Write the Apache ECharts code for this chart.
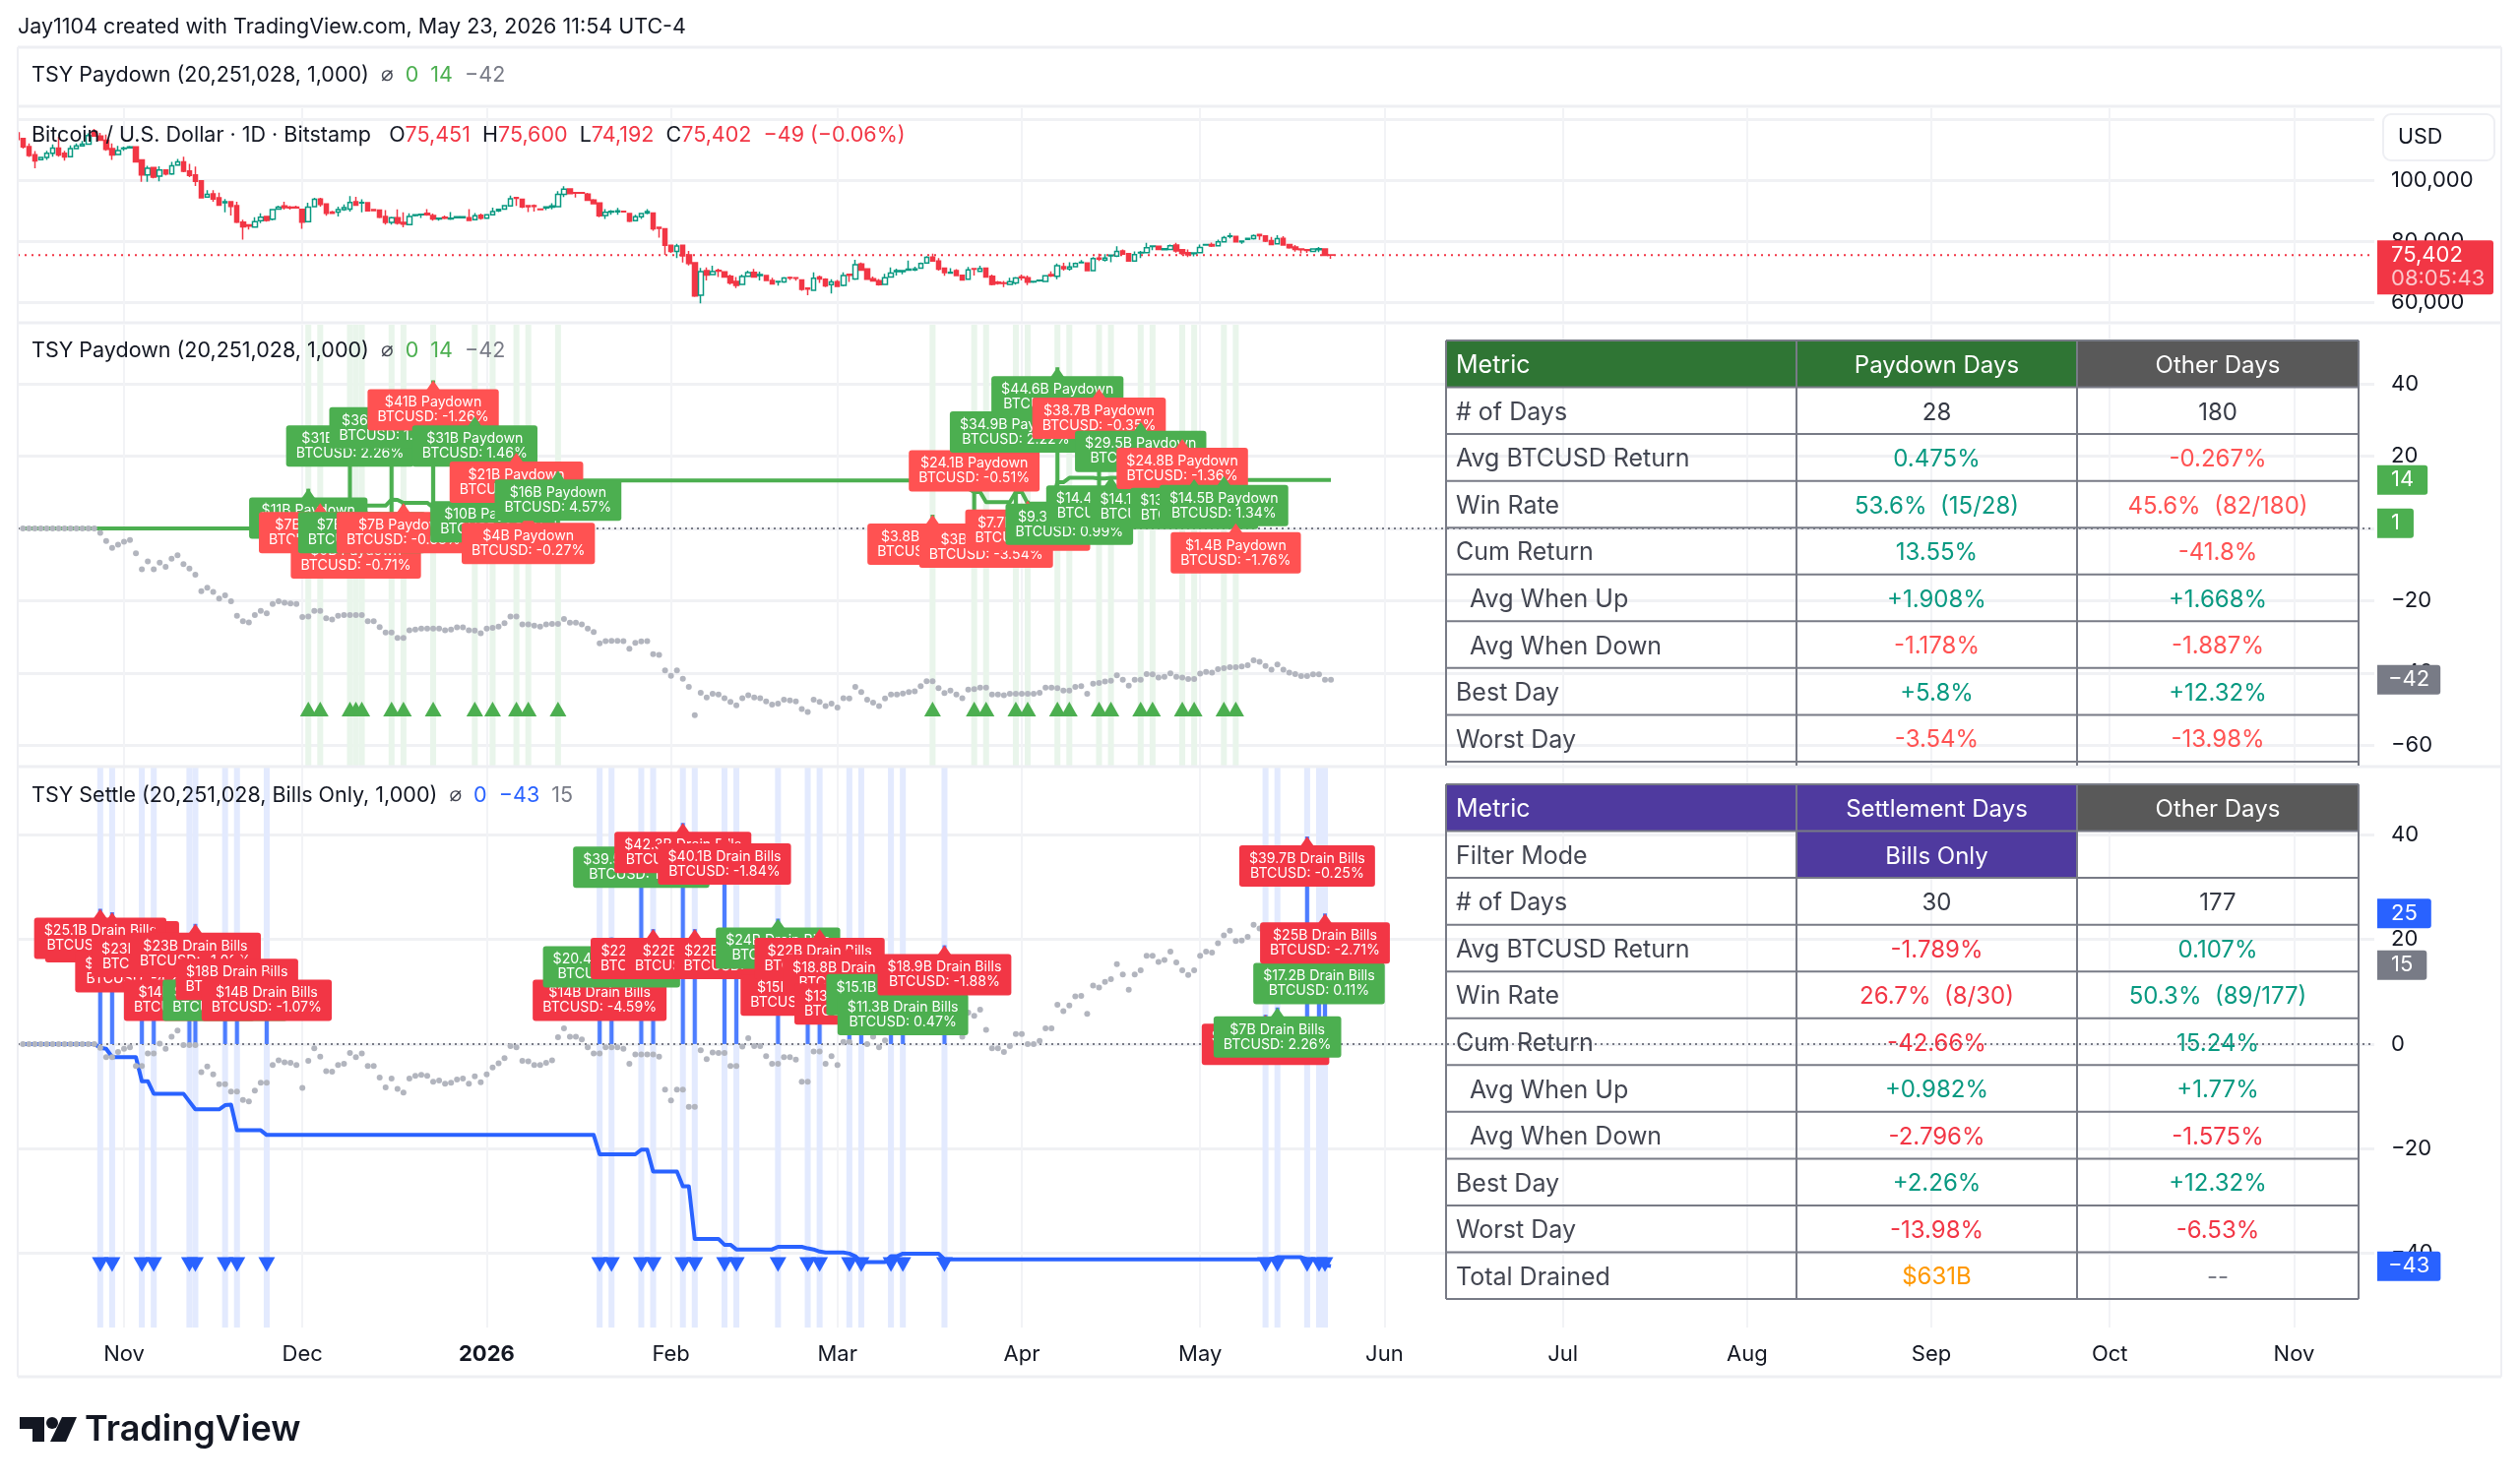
<!DOCTYPE html>
<html><head><meta charset="utf-8">
<style>html,body{margin:0;padding:0;background:#fff}#c{width:2560px;height:1507px}</style>
<script src="https://cdn.jsdelivr.net/npm/echarts@6/dist/echarts.min.js"></script>
</head><body><div id="c"></div>
<script>
// ---------- DATA (x = days since 1 Nov 2025) ----------
const monthDays   = [0,30,61,92,120,151,181,212,242,273,304,334,365];
const monthLabels = ['Nov','Dec','2026','Feb','Mar','Apr','May','Jun','Jul','Aug','Sep','Oct','Nov'];
const btcStartDay = -18;
// open, close, low, high in thousands of USD
const btcOHLC = [
[115.5,113.3,113.3,115.7],[113.6,110.9,110.3,113.9],[111.0,108.1,107.6,112.0],[108.3,106.3,103.9,109.5],[106.7,107.4,106.6,107.5],
[107.4,108.8,106.6,109.6],[108.8,110.5,107.7,111.7],[110.5,108.2,107.7,114.2],[108.8,107.6,106.4,109.6],[107.7,110.3,107.6,111.4],
[110.3,111.2,110.1,112.0],[111.2,111.8,111.2,112.8],[111.8,114.6,111.6,115.3],[116.0,114.4,114.4,116.8],[114.4,113.1,112.8,115.5],
[113.1,110.1,109.6,114.9],[110.3,108.2,106.6,112.0],[108.4,109.7,108.2,111.2],[110.3,110.5,109.6,111.0],[110.6,110.9,110.3,111.2],
[110.9,106.0,105.8,111.0],[106.6,101.7,99.4,106.7],[101.7,103.9,99.4,104.7],[104.1,101.0,100.6,104.3],[101.3,103.3,99.6,104.5],
[103.3,102.0,101.5,103.4],[102.0,104.7,101.7,106.0],[104.9,106.0,104.7,106.9],[106.0,102.9,102.6,107.7],[103.0,101.5,101.0,105.3],
[101.7,99.6,98.1,104.4],[99.8,94.2,94.0,99.9],[94.4,95.3,94.2,96.7],[95.5,93.8,92.9,96.7],[94.2,91.8,91.6,95.9],
[92.6,92.9,89.4,93.8],[92.9,91.4,88.4,93.1],[91.6,86.2,85.9,92.9],[86.2,84.7,80.5,87.0],[85.3,84.9,83.8,85.4],
[84.6,86.4,84.5,87.8],[86.7,87.8,85.9,89.1],[88.1,86.8,86.4,88.3],[87.2,90.3,86.8,90.5],[90.5,91.1,90.3,91.6],
[91.5,91.0,90.3,92.9],[91.1,90.9,90.3,91.5],[91.1,90.9,90.8,91.6],[90.4,86.2,84.0,90.5],[86.4,91.1,86.2,92.6],
[91.3,93.7,91.1,94.2],[93.8,92.0,91.3,94.2],[92.2,89.1,88.3,92.4],[89.5,89.1,89.0,89.9],[89.5,90.3,88.1,91.3],
[90.3,91.0,89.9,92.0],
[90.5,92.7,89.7,94.8],[92.9,91.8,91.6,94.5],[92.5,92.7,89.4,93.7],[92.6,89.9,89.7,92.7],[90.3,90.0,89.9,90.5],
[90.2,87.8,87.5,90.4],[88.1,86.1,85.4,90.2],[86.1,87.7,85.4,88.0],[87.7,85.9,85.4,90.4],[86.1,85.6,84.5,89.4],
[85.4,88.1,85.2,89.1],[88.4,88.6,88.1,88.7],[88.6,88.8,87.6,89.0],[89.1,88.6,88.3,90.5],[88.4,87.3,86.7,89.0],
[87.3,87.5,86.7,87.6],[87.8,87.5,87.2,88.4],[87.3,87.5,86.9,89.5],[87.7,88.0,87.5,88.1],[87.7,88.0,87.5,88.1],
[87.7,86.8,86.7,90.5],[87.0,88.3,86.8,89.2],[88.5,87.5,87.0,89.0],[87.5,88.6,87.4,88.8],[88.6,89.7,88.5,91.0],
[89.9,90.4,89.5,90.5],[90.5,91.6,90.4,91.8],[91.5,93.9,91.4,94.9],[94.3,94.0,91.5,94.5],[93.7,91.2,90.8,93.8],
[91.6,91.3,89.5,91.8],[91.6,91.4,89.7,92.0],[90.5,90.3,90.2,90.6],[90.9,91.2,90.2,91.3],[91.1,91.5,90.4,92.4],
[91.3,95.3,91.2,96.4],[95.3,97.0,94.4,98.0],[97.1,95.6,95.4,97.2],[95.9,95.7,94.3,96.1],[95.9,95.7,95.6,96.0],
[95.4,93.4,93.3,95.8],[93.5,92.3,92.0,93.8],[92.5,88.3,87.8,92.7],[88.4,89.4,87.3,90.5],[89.5,89.8,88.6,90.2],
[89.6,89.9,88.6,90.9],[89.8,89.6,89.5,89.9],[89.0,86.5,86.2,89.2],[86.7,88.0,86.5,88.6],[88.0,89.0,87.3,89.2],
[89.2,89.7,88.8,90.5],[89.2,84.0,83.4,89.4],[84.5,84.2,81.1,84.7],[84.0,78.6,75.5,84.1],[78.6,76.6,76.1,78.9],
[76.6,78.4,74.4,79.1],
[78.6,75.2,73.0,78.8],[75.5,72.7,72.0,76.8],[72.9,62.0,61.7,73.1],[62.3,70.0,59.6,71.2],[70.3,68.9,67.1,71.4],
[69.0,70.0,68.9,71.9],[70.4,70.2,68.2,71.0],[69.9,68.2,68.0,70.1],[68.5,66.3,65.7,69.0],[66.8,65.5,64.6,68.2],
[65.8,68.4,65.7,69.0],[68.5,69.7,68.4,70.3],[69.8,68.2,68.0,70.9],[68.7,69.0,67.1,70.0],[68.7,67.1,66.9,68.9],
[67.1,66.0,65.7,68.0],[66.6,66.8,65.4,66.9],[66.6,67.9,66.3,68.2],[68.1,67.9,67.3,68.4],[68.0,67.8,67.0,68.2],
[67.3,64.2,63.7,67.5],[64.6,64.3,62.3,64.7],[63.9,67.8,63.7,69.8],[68.2,67.6,66.3,68.7],[67.5,65.3,64.9,67.8],
[65.7,66.6,62.8,67.5],[66.7,65.2,64.9,67.3],[65.5,68.7,65.2,69.8],[69.1,68.8,66.6,69.2],[67.6,72.3,67.3,73.9],
[72.5,70.5,70.3,73.0],[70.9,67.5,67.3,71.1],[67.7,66.9,66.8,68.4],[67.0,65.7,65.4,67.6],[65.8,68.0,65.7,69.3],
[68.2,69.5,68.0,71.4],[70.0,70.3,68.7,71.0],[70.0,70.3,69.1,70.5],[70.5,70.8,70.3,73.6],[70.6,70.9,70.2,71.6],
[71.1,72.7,71.0,73.0],[72.8,74.7,72.7,75.1],[74.8,73.5,73.4,75.9],[73.5,70.8,70.3,74.4],[71.1,69.7,68.6,71.3],
[69.5,69.8,69.4,71.1],[70.3,68.7,68.6,70.8],[68.8,67.3,67.1,69.0],[67.5,70.6,67.3,71.5],[71.0,70.8,68.7,71.1],
[70.1,71.0,70.0,71.9],[71.1,68.2,68.0,71.3],[68.5,65.8,65.5,69.0],[66.5,66.1,65.7,66.9],[66.3,66.1,64.9,66.9],
[65.8,66.7,65.7,68.0],[66.3,67.9,65.7,68.2],[68.3,68.0,67.1,69.0],[68.0,66.5,65.6,68.7],[66.6,66.8,66.3,67.0],
[67.0,67.2,66.7,67.4],[66.8,68.6,66.7,68.8],[69.0,68.6,68.2,70.1],[68.5,71.9,67.5,72.7],[71.6,71.0,70.3,72.9],
[70.9,71.5,70.3,73.1],[71.6,72.7,71.4,73.0],[72.9,73.1,72.7,73.8],[72.8,70.3,70.1,73.0],[70.3,74.3,70.2,74.8],
[74.4,74.1,73.5,75.9],[73.8,74.4,73.3,75.7],[75.2,75.4,73.1,75.6],[75.1,76.6,74.8,78.3],[76.8,75.7,75.6,77.3],
[75.9,73.5,73.3,76.1],[73.5,75.6,73.3,76.6],[76.1,76.3,74.4,76.8],[76.2,77.8,76.0,79.4],[78.2,78.4,77.0,78.6],
[78.3,77.3,77.2,78.5],[77.2,77.5,77.1,77.6],[77.3,78.5,77.1,78.9],[78.7,76.8,76.2,79.4],[77.2,76.0,75.4,77.4],
[76.2,75.5,74.8,77.3],[75.9,76.1,75.0,76.3],[76.2,77.9,76.0,78.9],[78.7,78.9,78.5,79.1],[78.9,78.4,78.1,79.5],
[78.5,79.8,78.2,80.5],[79.8,81.1,79.5,81.7],[81.5,81.7,80.9,82.7],[81.5,79.8,79.5,81.7],[79.8,80.0,79.1,80.2],
[80.6,80.9,80.4,81.0],[80.8,81.8,80.5,82.2],[82.2,81.8,80.4,82.3],[81.7,80.0,79.7,81.9],[80.2,78.9,78.7,81.4],
[79.1,80.8,78.9,81.9],[80.9,78.7,78.6,81.6],[78.9,77.8,77.5,79.1],[78.1,77.3,76.5,78.7],[77.4,77.2,76.0,77.6],
[77.2,76.9,76.1,77.3],[76.6,77.4,76.4,77.5],[77.2,77.5,76.4,78.1],[77.4,75.3,75.1,77.6],[75.451,75.402,74.192,75.6]];
const btcLast = 75.402;

const linesStartDay = -17;
// gray "other days" cumulative return, paydown pane, day -17 to 203
const otherPaydown = [0,0,0,0,0,0,0,0,0,0,0,0,0,
-1.2,-3.5,-5.4,-4.5,-3.7,-3.2,-6.9,-11.3,-9.1,-11.3,
-9.5,-10.6,-8.4,-7.4,-9.9,-11.1,-12.8,-17.4,-16.4,-17.6,
-19.4,-18.5,-20.2,-24.2,-25.7,-26,-24,-22.8,-23.5,-20.9,
-20.2,-20.6,-20.8,-20.9,-24.5,-24.4,-22.8,-22.8,-24.9,-25.2,
-24.2,-24,-24,-24,-24,-25.7,-25.7,-27.3,-28.8,-28.8,
-30.3,-30.3,-28.2,-28,-27.7,-27.7,-27.7,-27.7,-28.2,-28,
-27.4,-27.4,-28.2,-28.3,-29,-27.7,-27.5,-27.2,-26.2,-24.4,
-24.4,-26.6,-26.6,-26.9,-27.2,-26.6,-26.4,-26.4,-25.1,-26.1,
-26.1,-26.6,-27.7,-28.7,-31.8,-31.2,-31.1,-31.1,-31.2,-33.3,
-31.7,-31.3,-31.2,-34.8,-35,-39.3,-40.8,-39.3,-41.6,-43.9,
-51.7,-45.5,-46.8,-45.8,-46,-47,-48,-49,
-47,-46.2,-46.8,-47,-47.9,-48.8,-48.5,-47.4,-47.6,-47.9,
-50,-50.8,-47.4,-48,-49.2,-48.5,-49.6,-47,-47.1,-43.9,
-45.3,-47.4,-48.2,-49.2,-47.1,-46,-46,-45.7,-45.3,-45.1,
-43.7,-42.3,-42.3,-44.2,-45.6,-44.9,-46,-47,-44.6,-44.5,
-44.1,-44.1,-46,-46,-46.2,-45.8,-45.8,-45.8,-45.8,-45.8,
-45.5,-44.1,-44.1,-44.2,-44.9,-44.9,-43.9,-43.7,-45.8,-43,
-42.8,-42.4,-42.2,-40.7,-41.9,-43.5,-41.9,-41.9,-40.3,-40.4,
-41.3,-41.1,-40.1,-41.1,-41.3,-41.7,-41.7,-40.2,-39.7,-39.9,
-39,-38.7,-38.4,-38.4,-38.2,-37.9,-36.5,-36.9,-38.1,-39.1,
-37.7,-39.1,-39.9,-40.3,-40.9,-40.9,-40.4,-40.4,-41.9,-41.9];
// gray "other days" cumulative return, settlement pane
const otherSettle = [0,0,0,0,0,0,0,0,0,0,0,0,0,
-0.7,-2.5,-2.5,-1.5,-0.9,-0.6,-4.2,-4.2,-1.8,-1.8,
0.1,-0.9,1.4,2.6,-0.2,-0.2,-0.2,-5.4,-4.3,-5.8,
-7.7,-7.7,-9.1,-9.1,-10.7,-11,-8.9,-7.4,-7.4,-4,
-3.1,-3.5,-3.6,-4,-8.4,-3.2,-0.8,-2.4,-5.2,-5.3,
-4,-3.8,-1.7,-2.5,-1.8,-4.2,-4.2,-6.4,-8.3,-6.6,
-8.6,-9.3,-6.6,-6.1,-5.9,-6.1,-7.2,-7,-7.6,-7.4,
-6.8,-6.6,-7.6,-6.2,-7.3,-5.8,-4.5,-3.7,-2.7,-0.4,
-0.6,-3.2,-3.3,-4,-4,-3.6,-3.1,1.3,3,1.4,
1.4,0.9,-0.6,-1.8,-1.8,-0.6,-0.6,-0.6,-0.9,-3.8,
-2,-2,-2,-2,-2.4,-8.7,-10.8,-8.7,-8.7,-12,
-12,-1.2,-2.9,-1.6,-1.7,-1.7,-4.2,-4.2,
-0.5,1.1,-0.4,-0.4,-2.3,-3.8,-3.8,-2.5,-2.5,-3,
-7.2,-7.2,-1.4,-1.4,-3.8,-2.3,-4,0.4,0.4,3.2,
2.2,0,1.4,-0.6,0.7,2.5,2.5,2.9,3.2,3.6,
5,6.8,6.8,5,3.2,4,2.9,1.4,6,5.4,
6.6,2.7,-0.8,-0.8,-1.5,-0.4,1.9,1.9,0,0,
0.6,3,3,7.5,6.3,7.4,9.1,9.2,5.8,11.2,
10.8,11.9,12.4,15.3,13.3,10.4,13.3,14.1,16.9,16.9,
15.7,16.1,17.7,15.6,14.1,13.2,14.1,16.9,17.7,17.5,
19.3,20.8,21.7,19.7,19.8,20.5,22.8,22.1,21.3,19.8,
21,19.1,18,17.3,16.6,16.6,17.1,17.1,15.1,15.1];
// cumulative lines as [level, number of days held]
const paydownCumSteps = [[0,48],[5.8,2],[3.9,5],[6.2,1],[5.5,1],[6.3,5],[8.0,1],[7.9,1],[7.1,5],[5.8,7],[7.3,3],[9.5,4],[9.0,2],[8.8,5],[13.3,63],[11,7],[10.1,2],[7.3,5],[10.1,2],[6.9,5],[12.8,2],[14,5],[13.8,2],[14,5],[14.8,2],[15.4,5],[14,2],[14.2,5],[15.2,2],[13.4,17]];
const settleCumSteps = [[0,13],[-0.7,1],[-0.9,1],[-2.5,5],[-7.1,2],[-9.5,6],[-11,1],[-12.5,5],[-11.7,1],[-11.6,1],[-16.5,5],[-17.4,56],[-21.1,7],[-20.2,2],[-24.4,5],[-27.2,2],[-37.3,5],[-38.4,2],[-39.3,7],[-38.8,5],[-39.1,1],[-39.3,1],[-39.7,1],[-39.9,4],[-40.1,1],[-40.6,1],[-41.7,5],[-40.6,2],[-40.1,7],[-41.2,56],[-40.8,5],[-41.2,2],[-41.8,1],[-42.3,1],[-42.5,1]];

// events: day, amount $B, amount text, BTC return text
const paydownDays    = [31,33,38,39,40,45,47,52,59,62,66,68,73,136,143,145,150,152,157,159,164,166,171,173,178,180,185,187];
const paydownAmounts = [11,7,31,0,7,36,7,41,31,10,21,4,16,3.8,24.1,3,34.9,7.7,44.6,9.3,38.7,14.4,29.5,14.1,24.8,13.7,14.5,1.4];
const paydownText    = ['$11B','$7B','$31B','$0B','$7B','$36B','$7B','$41B','$31B','$10B','$21B','$4B','$16B','$3.8B','$24.1B','$3B','$34.9B','$7.7B','$44.6B','$9.3B','$38.7B','$14.4B','$29.5B','$14.1B','$24.8B','$13.7B','$14.5B','$1.4B'];
const paydownReturns = ['5.8','-1.9','2.26','-0.71','0.22','1.86','-0.68','-1.26','1.46','1.25','-0.32','-0.27','4.57','-2.31','-0.51','-3.54','2.22','-2.2','4.99','0.99','-0.35','0.22','1.12','0.31','-1.36','0.27','1.34','-1.76'];
const settleDays     = [-2,-4,3,5,11,12,17,19,24,80,82,87,89,94,96,101,103,110,115,117,122,124,129,131,138,192,194,199,201,202];
const settleAmounts  = [25.2,25.9,19.5,22.4,14,23,14,18,14,14,20.4,39.5,22,42.3,22,40.1,22,24,15,22,18.8,13.3,15.1,11.3,18.9,5.6,7,39.7,17.2,25];
const settleText     = ['$25B','$25.1B','$19.5B','$23B','$14B','$23B','$14B','$18B','$14B','$14B','$20.4B','$39.5B','$22B','$42.3B','$22B','$40.1B','$22B','$24B','$15B','$22B','$18.8B','$13.3B','$15.1B','$11.3B','$18.9B','$5.6B','$7B','$39.7B','$17.2B','$25B'];
const settleReturns  = ['-2.04','-1.17','-4.21','-1.9','-1.36','-1.02','0.41','-1.6','-1.07','-4.59','0.88','1.32','-5.9','-0.95','-13.98','-1.84','-2.2','1.1','-0.42','-1.75','-2.1','-0.62','0.96','0.47','-1.88','-1.1','2.26','-0.25','0.11','-2.71'];
const paydownMarkerLevel = -50;
const settleMarkerLevel  = -42.2;

const table1Header = ['Metric','Paydown Days','Other Days'];
const table1Rows = [
 ['# of Days','28','180'],['Avg BTCUSD Return','0.475%','-0.267%'],['Win Rate','53.6%  (15/28)','45.6%  (82/180)'],
 ['Cum Return','13.55%','-41.8%'],['  Avg When Up','+1.908%','+1.668%'],['  Avg When Down','-1.178%','-1.887%'],
 ['Best Day','+5.8%','+12.32%'],['Worst Day','-3.54%','-13.98%']];
const table2Header = ['Metric','Settlement Days','Other Days'];
const table2Rows = [
 ['Filter Mode','Bills Only',''],['# of Days','30','177'],['Avg BTCUSD Return','-1.789%','0.107%'],
 ['Win Rate','26.7%  (8/30)','50.3%  (89/177)'],['Cum Return','-42.66%','15.24%'],['  Avg When Up','+0.982%','+1.77%'],
 ['  Avg When Down','-2.796%','-1.575%'],['Best Day','+2.26%','+12.32%'],['Worst Day','-13.98%','-6.53%'],['Total Drained','$631B','--']];

// ---------- LAYOUT / HELPERS ----------
const FONT = 'Inter, "Noto Sans", "DejaVu Sans", sans-serif';
const INK='#131722', GREEN='#4CAF50', RED='#FF5252', RED2='#F23645', BLUE='#2962FF', GRAY='#787B86', TEAL='#089981';
const X0=18, X1=2412, XMIN=-17.88, XMAX=378.5;
const measure = document.createElement('canvas').getContext('2d');
function textW(t,f){measure.font=f;return measure.measureText(t).width;}
const expand = steps => steps.flatMap(s => Array(s[1]).fill(s[0]));
const withDays = (vals,start) => vals.map((v,i)=>[start+i,v]);

function bandSeries(ix,days,color){
  return {type:'custom',xAxisIndex:ix,yAxisIndex:ix,silent:true,z:1,clip:true,
    data:days.map(d=>[d]),encode:{x:0},
    renderItem(p,api){
      const d=api.value(0),a=api.coord([d-0.5,0]),b=api.coord([d+0.5,0]);
      return {type:'rect',shape:{x:a[0],y:p.coordSys.y,width:b[0]-a[0],height:p.coordSys.height},style:{fill:color}};
    }};
}
function labelSeries(ix,days,amts,texts,rets,word,redColor){
  const lf='14.2px '+FONT;
  return {type:'custom',xAxisIndex:ix,yAxisIndex:ix,silent:true,z:8,clip:false,
    data:days.map((d,i)=>[d,amts[i],i]),encode:{x:0,y:1},
    renderItem(p,api){
      const i=api.value(2),c=api.coord([api.value(0),api.value(1)]);
      const r=rets[i],fill=r[0]==='-'?redColor:GREEN;
      const l1=texts[i]+' '+word,l2='BTCUSD: '+r+'%';
      const w=Math.max(textW(l1,lf),textW(l2,lf))+20,h=42,tip=9,x=c[0],y=c[1]+tip;
      return {type:'group',children:[
        {type:'polygon',shape:{points:[[x,c[1]],[x+7,y+1],[x-7,y+1]]},style:{fill}},
        {type:'rect',shape:{x:x-w/2,y,width:w,height:h,r:3},style:{fill}},
        {type:'text',style:{x,y:y+13.5,text:l1,fill:'#fff',font:lf,align:'center',verticalAlign:'middle'}},
        {type:'text',style:{x,y:y+28.5,text:l2,fill:'#fff',font:lf,align:'center',verticalAlign:'middle'}}
      ]};
    }};
}
function tagSeries(ix,tags){ // tags: [value,text,color,text2]
  const f='22px '+FONT;
  return {type:'custom',xAxisIndex:ix,yAxisIndex:ix,silent:true,z:9,clip:false,
    data:tags.map((t,i)=>[XMAX,t[0],i]),encode:{x:0,y:1},
    renderItem(p,api){
      const t=tags[api.value(2)],c=api.coord([api.value(0),api.value(1)]);
      const x=c[0]+3,two=!!t[3],neg=t[1][0]==='\u2212';
      const w=two?118:textW(t[1],f)+(neg?22:28),h=two?55:30,y=c[1]-15;
      const kids=[{type:'rect',shape:{x,y,width:w,height:h,r:[0,3,3,0]},style:{fill:t[2]}},
        {type:'text',style:{x:x+(neg?11:14),y:y+15,text:t[1],fill:'#fff',font:f,align:'left',verticalAlign:'middle'}}];
      if(two)kids.push({type:'text',style:{x:x+14,y:y+39,text:t[3],fill:'rgba(255,255,255,.72)',font:f,align:'left',verticalAlign:'middle'}});
      return {type:'group',children:kids};
    }};
}
function markers(ix,days,level,color,rot){
  return {type:'scatter',xAxisIndex:ix,yAxisIndex:ix,silent:true,z:7,symbol:'triangle',symbolRotate:rot,
    symbolSize:[17,15],itemStyle:{color,opacity:1},data:days.map(d=>[d,level])};
}
function dots(ix,vals){
  return {type:'scatter',xAxisIndex:ix,yAxisIndex:ix,silent:true,z:6,symbol:'circle',symbolSize:6,
    itemStyle:{color:'#B2B5BE',opacity:1},data:withDays(vals,linesStartDay)};
}
function cumLine(ix,steps,color){
  return {type:'line',xAxisIndex:ix,yAxisIndex:ix,silent:true,z:5,showSymbol:false,smooth:false,
    lineStyle:{color,width:4,join:'round'},data:withDays(expand(steps),linesStartDay)};
}
function hist(ix,days,amts,color){
  return {type:'bar',xAxisIndex:ix,yAxisIndex:ix,silent:true,z:4,barWidth:4,itemStyle:{color},
    data:days.map((d,i)=>[d,amts[i]])};
}
function flat(ix,v,color,dash,w){
  return {type:'line',xAxisIndex:ix,yAxisIndex:ix,silent:true,z:3,showSymbol:false,
    lineStyle:{color,width:w,type:dash},data:[[XMIN,v],[XMAX,v]]};
}
function xAxis(ix,show){
  return {gridIndex:ix,type:'value',min:XMIN,max:XMAX,
    axisLine:{show:false},
    axisTick:{show:false,customValues:monthDays},
    splitLine:{show:true,lineStyle:{color:'#F2F3F6',width:2}},
    axisLabel:{show,customValues:monthDays,margin:16,hideOverlap:false,
      fontFamily:FONT,fontSize:22,color:INK,showMinLabel:true,showMaxLabel:true,
      formatter:v=>{const t=monthLabels[monthDays.indexOf(v)];return /^\d/.test(t)?'{y|'+t+'}':t;},
      rich:{y:{fontFamily:FONT,fontSize:22,fontWeight:700,color:INK}}
    }};
}
function yAxis(ix,min,max,ticks,labels,fmt){
  return {gridIndex:ix,type:'value',position:'right',min,max,
    axisLine:{show:false},axisTick:{show:false,customValues:ticks},
    splitLine:{show:true,lineStyle:{color:'#F0F1F4',width:3}},
    axisLabel:{customValues:labels,margin:17,fontFamily:FONT,fontSize:22,color:INK,formatter:fmt,showMinLabel:true,showMaxLabel:true}};
}
const minusFmt = v => String(v).replace('-','\u2212');

// graphic helpers
const TF='21.5px '+FONT;
const G=[];
const line=(x1,y1,x2,y2,c,w,z)=>G.push({type:'line',z:z||50,silent:true,shape:{x1,y1,x2,y2},style:{stroke:c,lineWidth:w}});
const rect=(x,y,width,height,fill,z)=>G.push({type:'rect',z:z||55,silent:true,shape:{x,y,width,height},style:{fill}});
const text=(x,y,t,opt)=>G.push({type:'text',z:60,silent:true,x,y,style:Object.assign({text:t,font:TF,fill:INK,align:'left',verticalAlign:'middle'},opt||{})});

// frame
const FC='#EEEFF3';
rect(0,110,X0,218,'#fff',45);
[48,108,328,779,1399].forEach(y=>line(X0,y,2541,y,FC,3));
line(X0,48,X0,1399,FC,2); line(2541,48,2541,1399,FC,2);

// header + legends
text(18,28,'Jay1104 created with TradingView.com, May 23, 2026 11:54 UTC-4');
const legRich={a:{font:TF,fill:INK},b:{font:'21px "DejaVu Sans"',fill:'#434651'},g:{font:TF,fill:GREEN},s:{font:TF,fill:GRAY},u:{font:TF,fill:BLUE},r:{font:TF,fill:RED2}};
const rich=(x,y,t)=>G.push({type:'text',z:60,silent:true,x,y,style:{text:t,rich:legRich,font:TF,fill:INK,align:'left',verticalAlign:'middle'}});
rich(32,77,'{a|TSY Paydown (20,251,028, 1,000)}  {b|\u2300}  {g|0}  {g|14}  {s|\u221242}');
rich(32,138,'{a|Bitcoin / U.S. Dollar \u00b7 1D \u00b7 Bitstamp}   {a|O}{r|75,451}  {a|H}{r|75,600}  {a|L}{r|74,192}  {a|C}{r|75,402}  {r|\u221249 (\u22120.06%)}');
rich(32,357,'{a|TSY Paydown (20,251,028, 1,000)}  {b|\u2300}  {g|0}  {g|14}  {s|\u221242}');
rich(32,809,'{a|TSY Settle (20,251,028, Bills Only, 1,000)}  {b|\u2300}  {u|0}  {u|\u221243}  {s|15}');

// USD box
G.push({type:'rect',z:55,silent:true,shape:{x:2421,y:116,width:113,height:47,r:8},style:{fill:'#fff',stroke:'#EEEFF3',lineWidth:2}});
text(2436,140,'USD');

// logo
G.push({type:'polygon',z:60,silent:true,shape:{points:[[20,1440],[45,1440],[45,1465],[33,1465],[33,1452],[20,1452]]},style:{fill:INK}});
G.push({type:'circle',z:60,silent:true,shape:{cx:53,cy:1446,r:6},style:{fill:INK}});
G.push({type:'polygon',z:60,silent:true,shape:{points:[[63,1440],[78,1440],[67,1465],[51,1465]]},style:{fill:INK}});
text(86,1453,'TradingView',{font:'600 36px '+FONT});

// tables
const colX=[1469,1825,2110,2396], BORDER='#787B86', RH=47.55;
function cellColor(t,red,col){
  if(col===0||t==='')return '#434651';
  if(t==='--')return GRAY;
  if(t[0]==='$')return '#FF9800';
  if(/^[-]/.test(t))return red;
  if(/[%]/.test(t)){ if(t[0]==='+'||!/^\d+\.\d+%\s+\(/.test(t)) return TEAL; }
  return '#363A45';
}
function drawTable(top,head,rows,headFill,red,winColors,firstCellFill,clipBottom){
  const n=rows.length+1,yAt=i=>top+i*RH;
  rect(colX[0],top,colX[1]-colX[0],RH,headFill); rect(colX[1],top,colX[2]-colX[1],RH,headFill); rect(colX[2],top,colX[3]-colX[2],RH,'#595959');
  if(firstCellFill) rect(colX[1],yAt(1),colX[2]-colX[1],RH,firstCellFill);
  const bottom=clipBottom||yAt(n);
  for(let i=0;i<=n;i++) line(colX[0],yAt(i),colX[3],yAt(i),BORDER,2,56);
  colX.forEach(x=>line(x,top,x,bottom,BORDER,2,56));
  head.forEach((t,c)=>text(c?(colX[c]+colX[c+1])/2:colX[0]+10,yAt(.5)+2,t,{fill:'#fff',font:(c?24:25)+'px '+FONT,align:c?'center':'left'}));
  rows.forEach((r,i)=>r.forEach((t,c)=>{
    let fill=cellColor(t,red,c);
    if(/\(\d+\/\d+\)/.test(t)) fill=winColors[c-1];
    if(t==='Bills Only') fill='#fff';
    text(c?(colX[c]+colX[c+1])/2:colX[0]+10,yAt(i+1.5)+2,t,{fill,font:(c?24:25)+'px '+FONT,align:c?'center':'left'});
  }));
}
drawTable(346,table1Header,table1Rows,'#2F7534',RED,[TEAL,RED],null,778);
colX.forEach(x=>line(x,346+9*RH,x,778,BORDER,2,56));
drawTable(797,table2Header,table2Rows,'#4F3A9F',RED2,[RED2,TEAL],'#4F3A9F');

// ---------- CHART ----------
const chart = echarts.init(document.getElementById('c'),null,{renderer:'canvas',width:2560,height:1507});
chart.setOption({
  animation:false,backgroundColor:'#fff',
  textStyle:{fontFamily:FONT},
  grid:[
    {left:X0,width:X1-X0,top:110,height:218},
    {left:X0,width:X1-X0,top:330,height:448},
    {left:X0,width:X1-X0,top:780,height:569}],
  xAxis:[xAxis(0,false),xAxis(1,false),xAxis(2,true)],
  yAxis:[
    yAxis(0,53.23,123.55,[60,80,100,120],[60,80,100],v=>(v*1000).toLocaleString('en-US')),
    yAxis(1,-65.67,56.4,[-60,-40,-20,0,20,40],[-60,-40,-20,0,20,40],minusFmt),
    yAxis(2,-54.24,52.9,[-40,-20,0,20,40],[-40,-20,0,20,40],minusFmt)],
  graphic:{elements:G},
  series:[
    flat(0,btcLast,RED2,[2,5],2),
    {type:'candlestick',xAxisIndex:0,yAxisIndex:0,silent:true,z:4,barWidth:5,
     itemStyle:{color:'#fff',color0:RED2,borderColor:TEAL,borderColor0:RED2,borderWidth:1.5},
     data:btcOHLC.map((r,i)=>[btcStartDay+i,r[0],r[1],r[2],r[3]])},
    tagSeries(0,[[btcLast,'75,402',RED2,'08:05:43']]),

    bandSeries(1,paydownDays,'#E9F5EB'),
    flat(1,0,GRAY,[2,4],2),
    hist(1,paydownDays,paydownAmounts,GREEN),
    cumLine(1,paydownCumSteps,GREEN),
    dots(1,otherPaydown),
    markers(1,paydownDays,paydownMarkerLevel,GREEN,0),
    labelSeries(1,paydownDays,paydownAmounts,paydownText,paydownReturns,'Paydown',RED),
    tagSeries(1,[[13.4,'14',GREEN],[1.4,'1',GREEN],[-41.9,'\u221242',GRAY]]),

    bandSeries(2,settleDays,'#E3EAFE'),
    flat(2,0,GRAY,[2,4],2),
    hist(2,settleDays,settleAmounts,'#4D7DFF'),
    cumLine(2,settleCumSteps,BLUE),
    dots(2,otherSettle),
    markers(2,settleDays,settleMarkerLevel,BLUE,180),
    labelSeries(2,settleDays,settleAmounts,settleText,settleReturns,'Drain Bills',RED2),
    tagSeries(2,[[25,'25',BLUE],[15.1,'15',GRAY],[-42.5,'\u221243',BLUE]])
  ]
});
</script></body></html>
